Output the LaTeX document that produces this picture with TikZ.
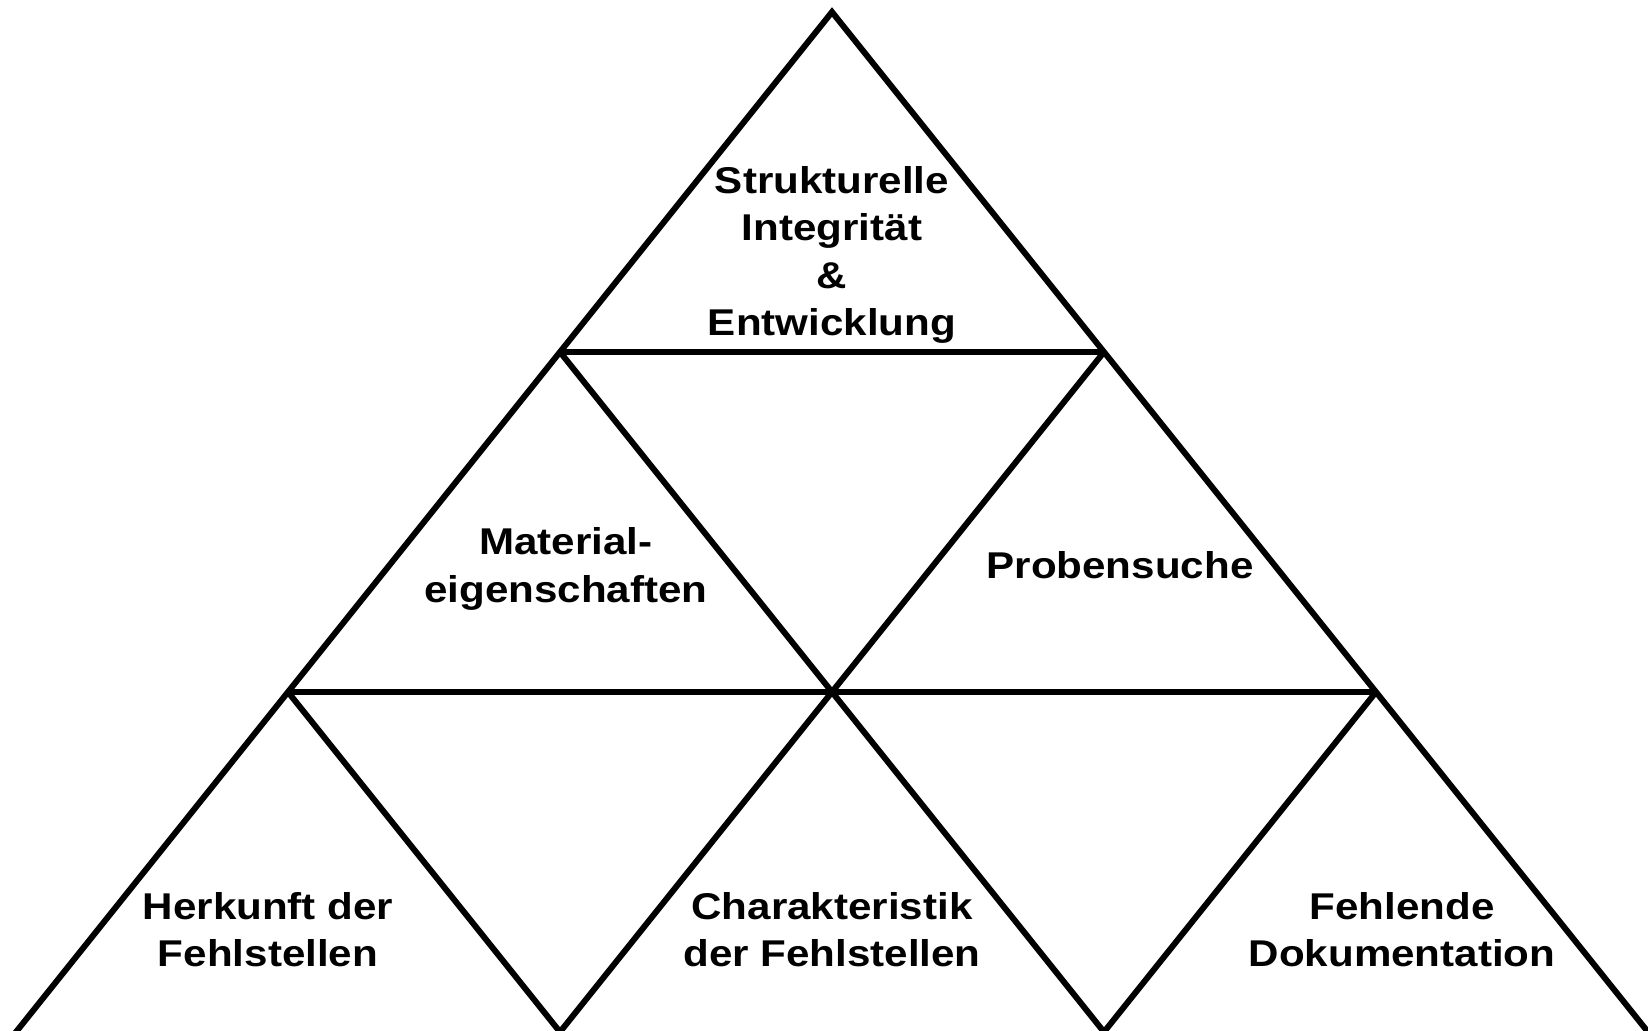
\documentclass[tikz,border=0pt]{standalone}
\usepackage{fontspec}
\setmainfont{Liberation Sans}[FakeStretch=1.13]
\begin{document}
\begin{tikzpicture}[x=0.01cm,y=-0.01cm]
    \newcommand{\apexx}{832}
    \newcommand{\halfw}{272}   % half width of one small triangle
    \newcommand{\rowh}{340}    % height of one row
    \newcommand{\topy}{12}

    % set the style of the sides and the texts
    \tikzset{
        side/.style={
            line width=1.7pt,
            line join=miter
            },
        fieldtext/.style={
            font=\fontsize{10.6}{13.4}\selectfont\bfseries,
            align=center,
            inner sep=0pt
            }
    }

    \useasboundingbox (0,0) rectangle (1648,1031);

    % corners
    \coordinate (t0) at (\apexx,\topy);
    \coordinate (l1) at (\apexx-\halfw,\topy+\rowh);
    \coordinate (r1) at (\apexx+\halfw,\topy+\rowh);
    \coordinate (l2) at (\apexx-2*\halfw,\topy+2*\rowh);
    \coordinate (r2) at (\apexx+2*\halfw,\topy+2*\rowh);
    \coordinate (b0) at (\apexx-3*\halfw,\topy+3*\rowh);
    \coordinate (b1) at (\apexx-\halfw,\topy+3*\rowh);
    \coordinate (b2) at (\apexx+\halfw,\topy+3*\rowh);
    \coordinate (b3) at (\apexx+3*\halfw,\topy+3*\rowh);

    % outer sides
    \draw[side, shorten <=-4pt, shorten >=-4pt] (b0) -- (t0) -- (b3);
    % rows
    \draw[side] (l1) -- (r1);
    \draw[side] (l2) -- (r2);
    % inner sides
    \draw[side, shorten >=-4pt] (l1) -- (b2);
    \draw[side, shorten >=-4pt] (r1) -- (b1);
    \draw[side, shorten >=-4pt] (l2) -- (b1);
    \draw[side, shorten >=-4pt] (r2) -- (b2);

    % texts
    \node[fieldtext] (integritaet) at (832,255) {Strukturelle\\Integrität\\\&\\Entwicklung};
    \node[fieldtext] (material) at (566,569) {Material-\\eigenschaften};
    \node[fieldtext] (proben) at (1120,565) {Probensuche};
    \node[fieldtext] (herkunft) at (268,930) {Herkunft der\\Fehlstellen};
    \node[fieldtext] (charakter) at (832,930) {Charakteristik\\der Fehlstellen};
    \node[fieldtext] (doku) at (1402,930) {Fehlende\\Dokumentation};
\end{tikzpicture}
\end{document}
